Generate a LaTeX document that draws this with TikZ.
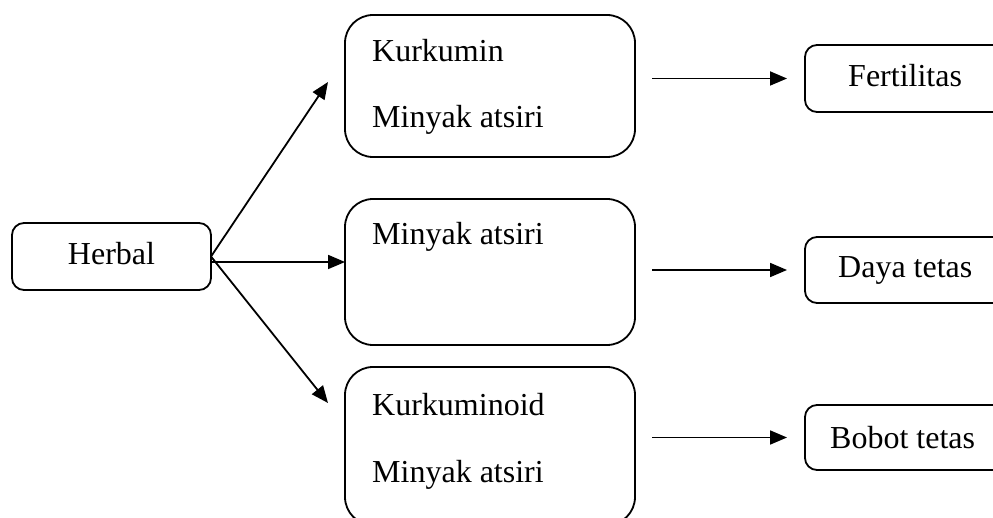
\documentclass[tikz,border=0pt]{standalone}
\usepackage{fontspec}
\setmainfont{Liberation Serif}
\usetikzlibrary{arrows.meta}
\tikzset{
  bigbox/.style={draw, line width=1.8pt, rounded corners=28pt, minimum width=290pt, inner sep=0pt, outer sep=0pt},
  smallbox/.style={draw, line width=1.8pt, rounded corners=12pt, inner sep=0pt, outer sep=0pt},
  txt/.style={inner sep=0pt, anchor=base west, font=\fontsize{32}{38}\selectfont},
  arr/.style={line width=1.8pt, -{Triangle[length=17pt,width=14pt]}}
}
\begin{document}
\begin{tikzpicture}[x=1pt,y=-1pt]
\useasboundingbox (0,0) rectangle (993,518);
\clip (0,0) rectangle (993,518);
\fill[white] (0,0) rectangle (993,518);
% boxes
\node[smallbox, minimum width=199pt, minimum height=67pt] (herbal) at (111.5,256.5) {};
\node[bigbox, minimum height=142pt] (b1) at (490,86) {};
\node[bigbox, minimum height=146pt] (b2) at (490,272) {};
\node[bigbox, minimum height=158pt] (b3) at (490,446) {};
\node[smallbox, minimum width=205pt, minimum height=67pt] (fert) at (907.5,78.5) {};
\node[smallbox, minimum width=205pt, minimum height=66pt] (daya) at (907.5,270) {};
\node[smallbox, minimum width=205pt, minimum height=65pt] (bobot) at (907.5,437.5) {};
% texts
\node[txt, anchor=base] (herbalt) at (111.5,265) {Herbal};
\node[txt] (k1) at (372,62) {Kurkumin};
\node[txt] (m1) at (372,128) {Minyak atsiri};
\node[txt] (m2) at (372,245) {Minyak atsiri};
\node[txt] (k3) at (372,415) {Kurkuminoid};
\node[txt] (m3) at (372,482) {Minyak atsiri};
\node[txt] (fertt) at (848,87) {Fertilitas};
\node[txt] (dayat) at (838,278) {Daya tetas};
\node[txt] (bobott) at (830,448) {Bobot tetas};
% arrows
\draw[arr] (herbal.east) -- ([xshift=-17pt,yshift=4pt]b1.west);
\draw[arr] ([yshift=-5.5pt]herbal.east) -- ([yshift=10pt]b2.west);
\draw[arr] (herbal.east) -- ([xshift=-17pt,yshift=43pt]b3.west);
\draw[arr] ([xshift=17pt]b1.east |- fert.west) -- ([xshift=-18pt]fert.west);
\draw[arr] ([xshift=17pt]b2.east |- daya.west) -- ([xshift=-18pt]daya.west);
\draw[arr] ([xshift=17pt]b3.east |- bobot.west) -- ([xshift=-18pt]bobot.west);
\end{tikzpicture}
\end{document}
